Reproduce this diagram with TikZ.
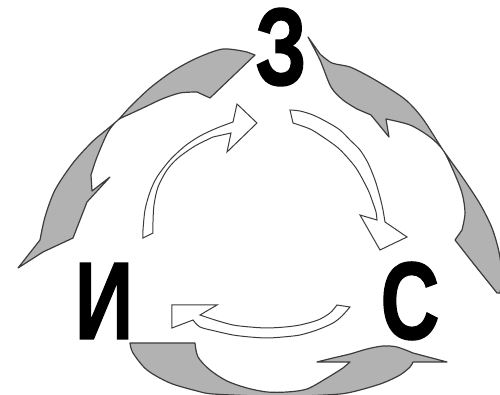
\documentclass[tikz,border=0pt]{standalone}
\usepackage{fontspec}
\setmainfont{Liberation Sans}
\newfontfamily\heavyfont[FakeBold=1.5]{Liberation Sans Bold}
\definecolor{arrowgray}{RGB}{178,178,178}
\definecolor{edgegray}{RGB}{60,60,60}
\begin{document}
\begin{tikzpicture}[x=0.5pt,y=-0.5pt,
  grayarrow/.style={fill=arrowgray, draw=edgegray, line width=0.6pt, line join=round},
  whitearrow/.style={draw=edgegray, line width=0.5pt, fill=white, line join=miter},
  letter/.style={inner sep=0pt, font=\fontsize{55}{55}\selectfont\heavyfont}]
\useasboundingbox (0,0) rectangle (500,395);
\clip (0,0) rectangle (500,395);

% left outer gray arrow (З -> И)
\path[grayarrow] (255,55) -- plot[smooth] coordinates {(247,52) (223,49) (197,58) (173,71) (150,88) (130,107) (118,120) (105,131) (92,142) (73,163) (55,190) (45,217) (40,240)}
  -- (18,268) -- (43,252) -- (73,238) -- (87,202) -- (110,177) -- (92,191)
  -- plot[smooth] coordinates {(91,175) (97,157) (108,132) (118,120) (130,114) (145,107) (162,99) (180,93) (197,92)}
  -- (210,98) -- cycle;

% right outer gray arrow (З -> С)
\path[grayarrow] (308,37) -- plot[smooth] coordinates {(320,54) (332,63) (350,67) (370,77) (390,89) (407,101) (423,119) (443,150) (463,178) (480,204) (492,228) (499,252) (502,275) (500,293)}
  -- (497,293) -- (473,263) -- (455,240)
  -- plot[smooth] coordinates {(462,230) (465,213) (462,193) (453,170) (443,150) (430,137) (410,125) (386,119)}
  -- (389,137) -- (371,115)
  -- plot[smooth] coordinates {(357,109) (343,100) (331,87) (320,60) (308,37)} -- cycle;

% bottom outer gray arrow (И -> С)
\path[grayarrow] (130,343) -- (195,343)
  -- plot[smooth] coordinates {(195,343) (198,357) (210,370) (227,381) (247,388) (267,392) (287,392) (307,389) (327,378) (343,368)}
  -- (350,362) -- (317,362)
  -- plot[smooth] coordinates {(317,362) (333,358) (350,354) (367,349) (383,346) (397,347) (413,353)}
  -- (447,362) -- (413,362)
  -- plot[smooth] coordinates {(413,362) (410,367) (400,375) (383,383) (360,390) (340,394) (300,396) (260,396) (213,394) (197,391) (170,383) (147,370) (133,353) (130,343)}
  -- cycle;

% inner white arrows
\path[whitearrow] (143,238) -- plot[smooth] coordinates {(143,230) (145,210) (150,192) (157,177) (170,160) (185,146) (200,136) (217,128) (233,122)}
  -- (237,104) -- (257,123) -- (227,152) -- (231,133)
  -- plot[smooth] coordinates {(213,137) (195,146) (178,158) (167,170) (158,187) (154,205) (153,222) (153,233)} -- cycle;

\path[whitearrow] (290,110) -- (293,123)
  -- plot[smooth] coordinates {(293,123) (310,129) (323,137) (337,147) (347,157) (356,168) (363,180) (369,192) (373,203) (376,212) (377,220)}
  -- (360,215) -- (380,250) -- (407,237) -- (385,222)
  -- plot[smooth] coordinates {(385,222) (383,210) (380,197) (375,180) (368,163) (360,150) (350,140) (340,130) (327,122) (313,115) (300,111) (290,110)} -- cycle;

\path[whitearrow] (172,305) -- (217,305) -- (200,315)
  -- plot[smooth] coordinates {(200,315) (215,320) (233,325) (250,327) (267,328) (285,327) (300,325) (318,320) (330,313) (337,305)}
  -- (350,307)
  -- plot[smooth] coordinates {(350,307) (342,316) (333,323) (317,330) (300,335) (283,337) (267,338) (250,337) (233,335) (215,331) (200,327) (193,320)}
  -- (172,328) -- cycle;

% letters
\node[letter] (z) at (281,47) {\scalebox{0.74}[1]{З}};
\node[letter] (i) at (104,301) {\scalebox{0.74}[1]{И}};
\node[letter] (s) at (410,301) {\scalebox{0.74}[1]{С}};
\end{tikzpicture}
\end{document}
